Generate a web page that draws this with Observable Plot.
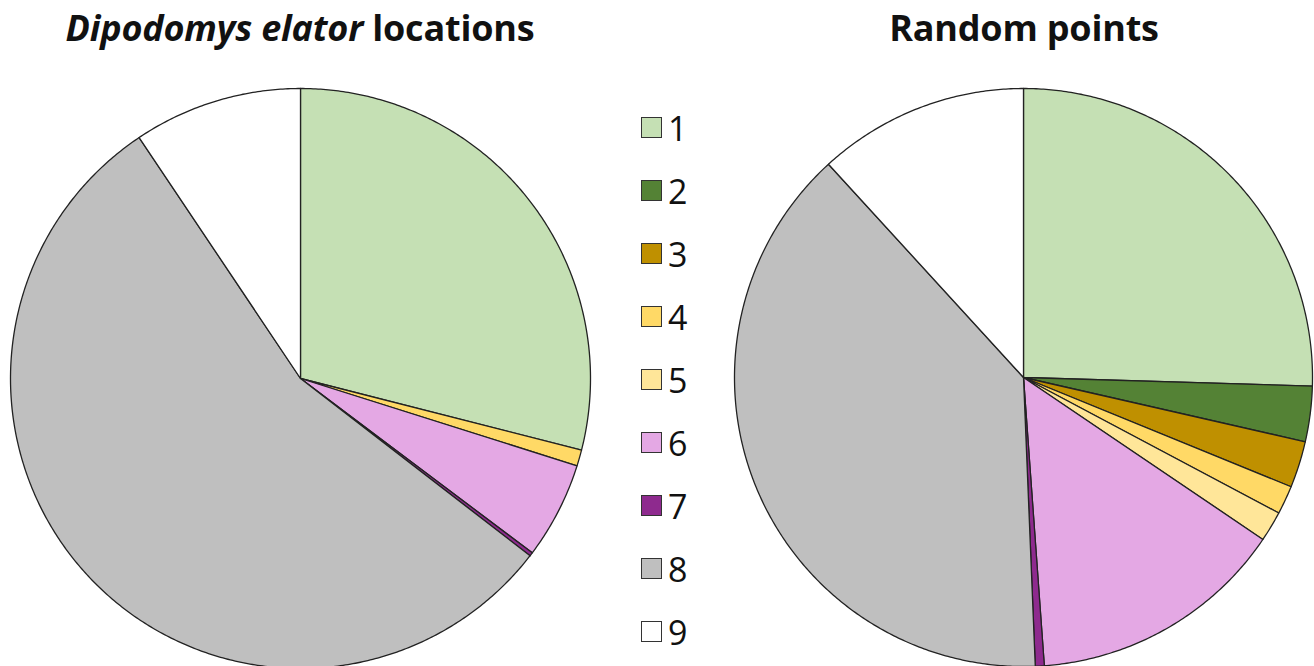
<!DOCTYPE html>
<html>
<head>
<meta charset="utf-8">
<script src="https://cdn.jsdelivr.net/npm/d3@7"></script>
<script src="https://cdn.jsdelivr.net/npm/@observablehq/plot@0.6"></script>
<style>
  body { margin: 0; background: #fff; font-family: "Open Sans", sans-serif; }
  #root { position: relative; width: 1314px; height: 666px; overflow: hidden; background: #fff; }
  .title { position: absolute; top: 3px; width: 600px; text-align: center; font-weight: 700; font-size: 36px; color: #111; white-space: nowrap; letter-spacing: -0.2px; }
  .pie { position: absolute; top: 86px; }
  #legend { position: absolute; left: 641px; top: 0; }
  .item { position: absolute; left: 0; display: flex; align-items: center; height: 40px; font-size: 34px; color: #111; white-space: nowrap; }
  .sw { width: 19px; height: 19px; border: 1.4px solid #333; margin-right: 6px; }
</style>
</head>
<body>
<div id="root">
  <div class="title" id="t1" style="left:0px;"><i>Dipodomys elator</i> locations</div>
  <div class="title" id="t2" style="left:724px;">Random points</div>
  <div class="pie" id="pie1" style="left:8px;"></div>
  <div class="pie" id="pie2" style="left:732px;"></div>
  <div id="legend"></div>
</div>
<script>
// Categories and colours
const categories = ["1", "2", "3", "4", "5", "6", "7", "8", "9"];
const colors = ["#c5e0b4", "#548235", "#bf9000", "#ffd966", "#ffe699", "#e4a8e4", "#8e2a8e", "#bfbfbf", "#ffffff"];

// Percent shares (clockwise from 12 o'clock)
const elatorValues = [29.0, 0, 0, 0.9, 0, 5.4, 0.2, 55.2, 9.4];
const randomValues = [25.5, 3.1, 2.6, 1.6, 1.7, 14.4, 0.5, 38.9, 11.8];

function slicePoints(values) {
  const rows = categories.map((c, i) => ({cat: c, value: values[i]})).filter(d => d.value > 0);
  const arcs = d3.pie().sort(null).value(d => d.value).startAngle(0).endAngle(2 * Math.PI)(rows);
  const pts = [];
  for (const a of arcs) {
    const cat = a.data.cat;
    pts.push({cat, x: 0, y: 0});
    const n = Math.max(2, Math.ceil((a.endAngle - a.startAngle) / (Math.PI / 360)));
    for (let k = 0; k <= n; k++) {
      const t = a.startAngle + (a.endAngle - a.startAngle) * k / n;
      pts.push({cat, x: Math.sin(t), y: Math.cos(t)});
    }
    pts.push({cat, x: 0, y: 0});
  }
  return pts;
}

function pie(values) {
  const size = 584;
  return Plot.plot({
    width: size,
    height: size,
    margin: 2,
    x: {domain: [-1, 1], axis: null},
    y: {domain: [-1, 1], axis: null},
    color: {domain: categories, range: colors},
    marks: [
      Plot.line(slicePoints(values), {
        x: "x", y: "y", z: "cat", fill: "cat",
        stroke: "#222", strokeWidth: 1.3, strokeLinejoin: "round", curve: "linear"
      })
    ]
  });
}

document.getElementById("pie1").appendChild(pie(elatorValues));
document.getElementById("pie2").appendChild(pie(randomValues));

// Legend
const legend = document.getElementById("legend");
categories.forEach((c, i) => {
  const item = document.createElement("div");
  item.className = "item";
  item.style.top = (107.5 + i * 63.05) + "px";
  const sw = document.createElement("div");
  sw.className = "sw";
  sw.style.background = colors[i];
  const lab = document.createElement("span");
  lab.textContent = c;
  item.appendChild(sw);
  item.appendChild(lab);
  legend.appendChild(item);
});
</script>
</body>
</html>
